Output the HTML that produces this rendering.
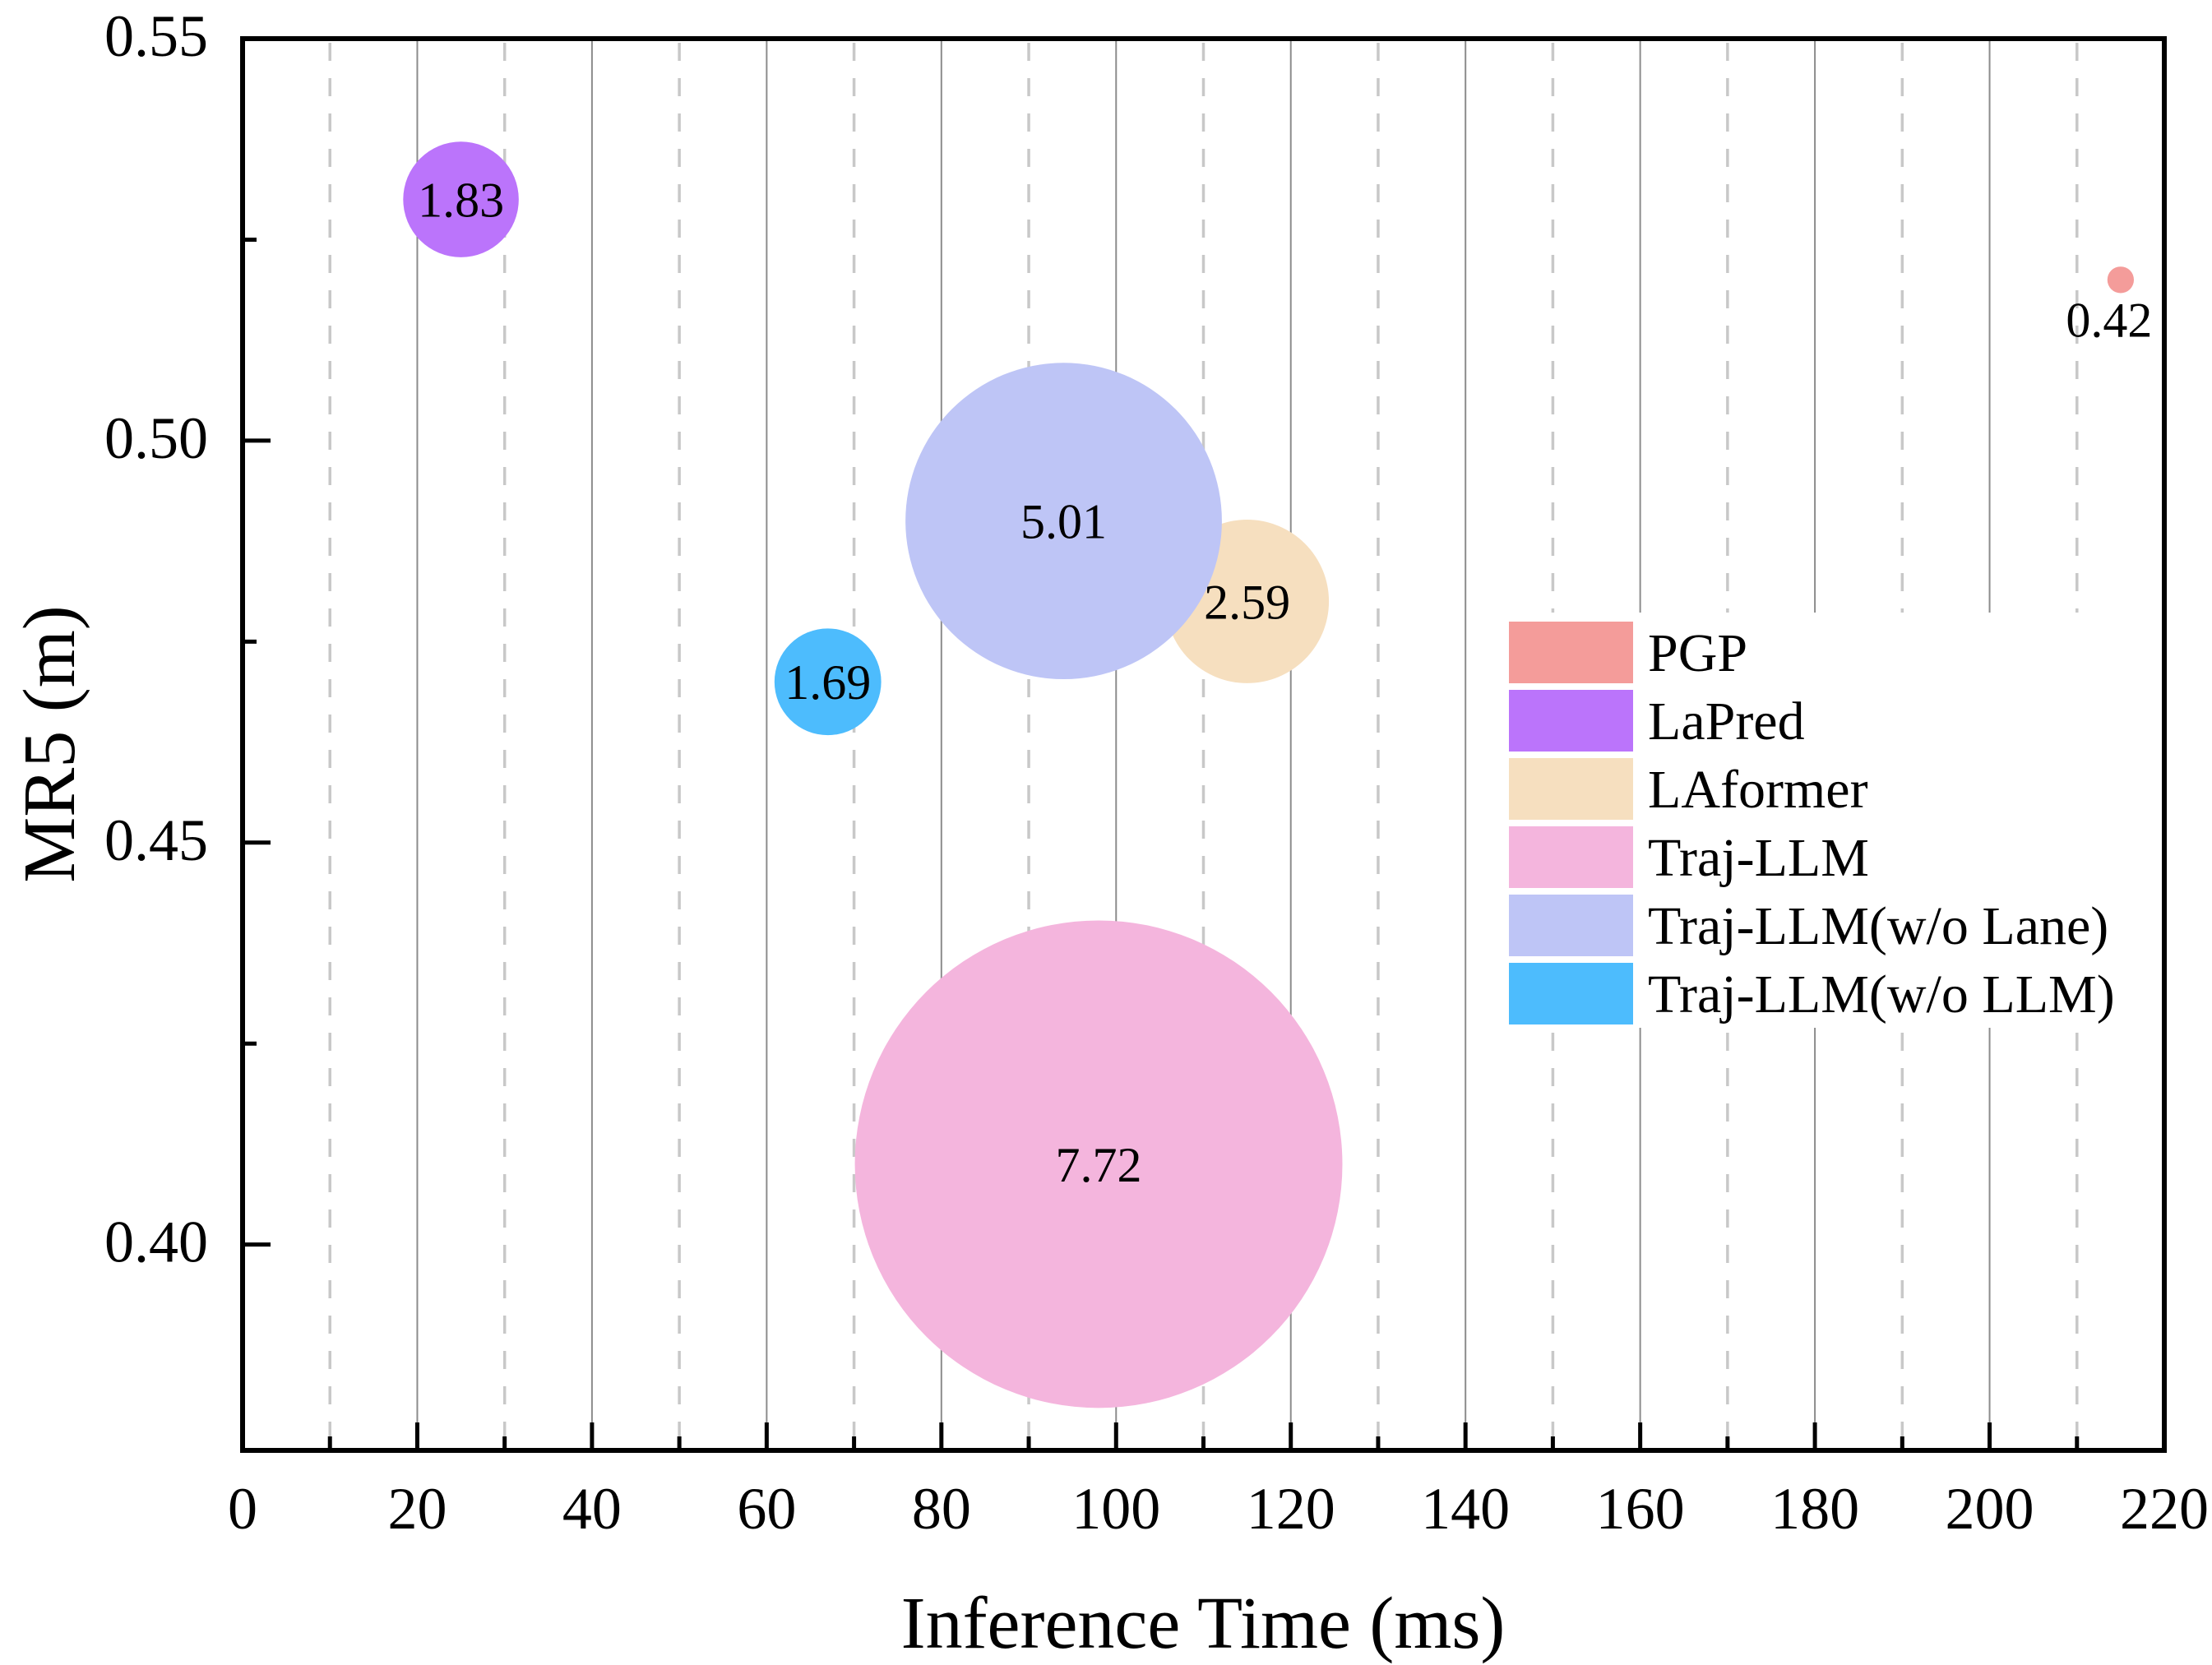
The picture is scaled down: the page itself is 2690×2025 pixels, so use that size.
<!DOCTYPE html>
<html><head><meta charset="utf-8"><style>
html,body{margin:0;padding:0;background:#fff}
svg{display:block}
text{font-family:"Liberation Serif",serif;fill:#000}
</style></head><body>
<svg id="chart" width="2690" height="2025" viewBox="0 0 2690 2025" xmlns="http://www.w3.org/2000/svg">
<rect width="2690" height="2025" fill="#fff"/>
<g id="grid"></g>
<g id="bubbles"></g>
<g id="legend"></g>
<g id="axes"></g>
<text x="1463" y="2004" font-size="90" text-anchor="middle">Inference Time (ms)</text>
<text transform="translate(90,905) rotate(-90)" font-size="90" text-anchor="middle">MR5 (m)</text>
</svg>
<script>
const names = ["PGP","LaPred","LAformer","Traj-LLM","Traj-LLM(w/o Lane)","Traj-LLM(w/o LLM)"];
const times = [215, 25, 115, 98, 94, 67];
const mr5 = [0.52, 0.53, 0.48, 0.41, 0.49, 0.47];
const sizes = [0.42, 1.83, 2.59, 7.72, 5.01, 1.69];
const colors = ["#f49c9a","#bb74fb","#f6dfbf","#f4b5dd","#bec5f6","#4dbcfd"];
const xTicks = [0,20,40,60,80,100,120,140,160,180,200,220];
const yTicks = [0.40,0.45,0.50,0.55];

const L=295,R=2632,T=47,B=1764;
const xMin=0,xMax=220,yMax=0.55,yMin=0.3744;
function xs(v){return L+(v-xMin)/(xMax-xMin)*(R-L);}
function ys(v){return T+(yMax-v)/(yMax-yMin)*(B-T);}
const rScale=38.4;
const NS="http://www.w3.org/2000/svg";
function mk(tag,attrs,parent,txt){const e=document.createElementNS(NS,tag);for(const k in attrs)e.setAttribute(k,attrs[k]);if(txt!==undefined)e.textContent=txt;parent.appendChild(e);return e;}
const grid=document.getElementById('grid'),bub=document.getElementById('bubbles'),leg=document.getElementById('legend'),ax=document.getElementById('axes');

for(let v=10;v<xMax;v+=10){
  const x=xs(v);
  let g;
  if(v%20===0){g=mk('line',{x1:x,x2:x,y1:T,y2:B,stroke:'#8c8c8c','stroke-width':2},grid);}
  else{g=mk('line',{x1:x,x2:x,y1:T+5,y2:B,stroke:'#c8c8c8','stroke-width':3.5,'stroke-dasharray':'22 21'},grid);}
  
}

for(let i=0;i<names.length;i++){
  const c=mk('circle',{cx:xs(times[i]),cy:ys(mr5[i]),r:sizes[i]*rScale,fill:colors[i]},bub);
  
  
}
for(let i=0;i<names.length;i++){
  const r=sizes[i]*rScale;
  let tx=xs(times[i]),ty=ys(mr5[i])+21;
  if(r<30){tx=xs(times[i])-14;ty=ys(mr5[i])+r+53;}
  const t=mk('text',{x:tx,y:ty,'font-size':60,'text-anchor':'middle'},bub,sizes[i].toFixed(2));
  
  
}

const lb=mk('rect',{x:1822,y:745,width:780,height:505,fill:'#fff'},leg);


for(let i=0;i<names.length;i++){
  const y=756+i*83;
  const s=mk('rect',{x:1835,y:y,width:151,height:75,fill:colors[i]},leg);
  
  
  const t=mk('text',{x:2004,y:y+60,'font-size':66},leg,names[i]);
  
  
}

const fr=mk('rect',{x:L,y:T,width:R-L,height:B-T,fill:'none',stroke:'#000','stroke-width':6},ax);


for(let v=10;v<xMax;v+=10){
  const major=v%20===0;
  const tk=mk('line',{x1:xs(v),x2:xs(v),y1:B,y2:B-(major?34:17),stroke:'#000','stroke-width':5},ax);
  
  
}
for(const v of xTicks){
  const t=mk('text',{x:xs(v),y:1859,'font-size':72,'text-anchor':'middle'},ax,String(v));
  
  
}
for(let k=0;k<7;k++){
  const v=0.40+k*0.025;
  const major=(k%2===0);
  const tk=mk('line',{x1:L,x2:L+(major?34:17),y1:ys(v),y2:ys(v),stroke:'#000','stroke-width':5},ax);
  
  
}
for(const v of yTicks){
  const t=mk('text',{x:253,y:ys(v)+21,'font-size':72,'text-anchor':'end'},ax,v.toFixed(2));
  
  
}
</script>
</body></html>
